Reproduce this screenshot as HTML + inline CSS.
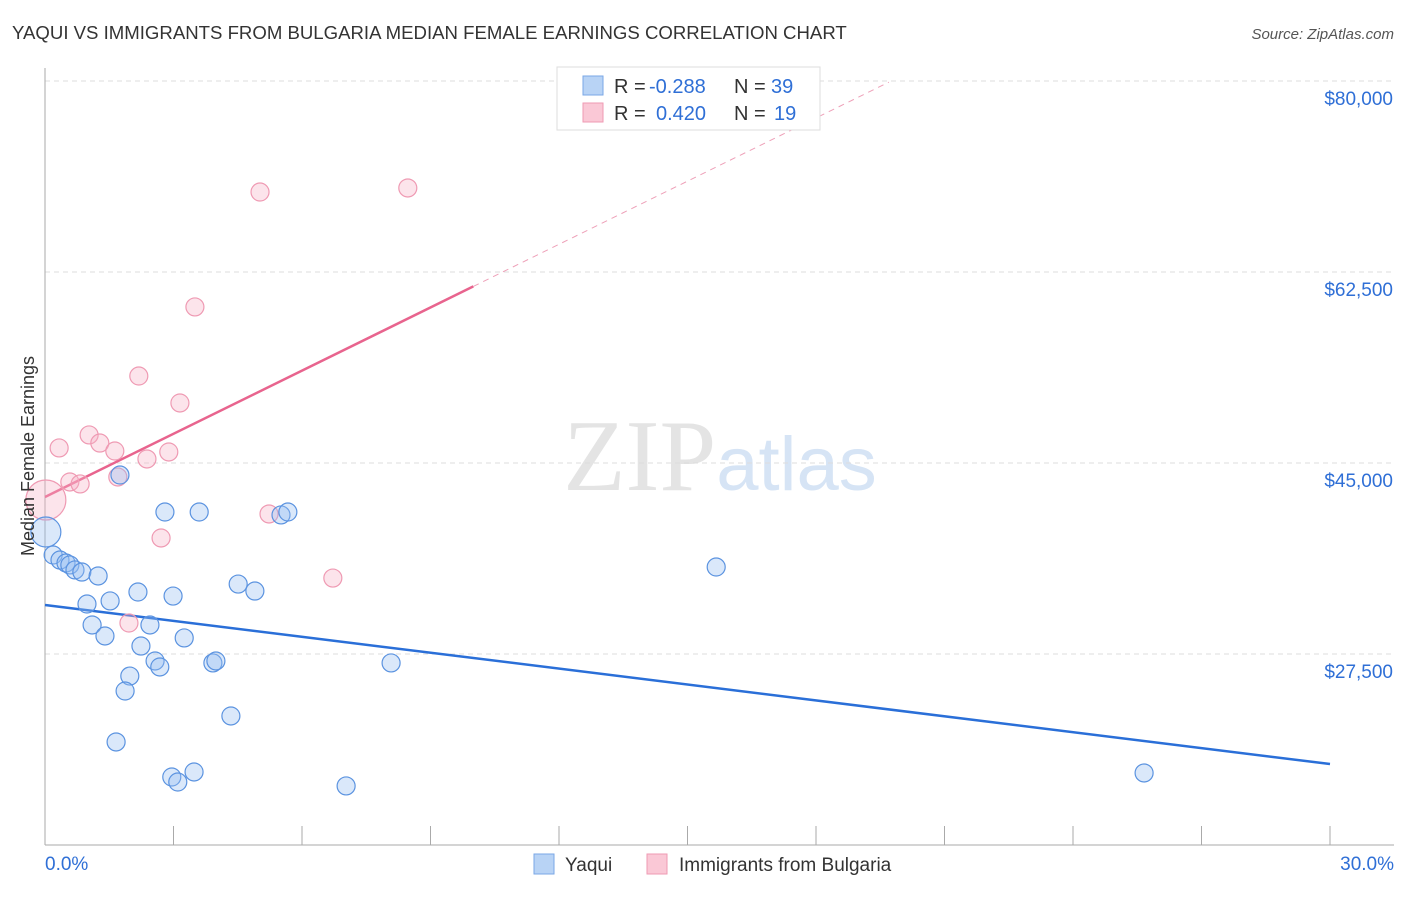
<!DOCTYPE html>
<html><head><meta charset="utf-8"><style>
body{margin:0;background:#fff;font-family:"Liberation Sans",sans-serif}
</style></head><body>
<svg id="chart" width="1406" height="892" xmlns="http://www.w3.org/2000/svg" font-family="Liberation Sans, sans-serif">
<text x="12" y="39" font-size="18.6" fill="#333">YAQUI VS IMMIGRANTS FROM BULGARIA MEDIAN FEMALE EARNINGS CORRELATION CHART</text>
<text x="1394" y="39" font-size="15" fill="#555" text-anchor="end" font-style="italic">Source: ZipAtlas.com</text>
<text x="720" y="490" font-size="102" text-anchor="middle" fill="#e4e4e4" font-family="Liberation Serif, serif">ZIP<tspan fill="#d6e4f5" font-family="Liberation Sans, sans-serif" font-size="76">atlas</tspan></text>
<g id="grid"></g><g id="axes"></g><g id="lines"></g><g id="pts"></g>
<text transform="translate(34,456) rotate(-90)" font-size="18" fill="#333" text-anchor="middle">Median Female Earnings</text>
<g>
<rect x="557" y="67" width="263" height="63" fill="#fff" stroke="#ddd"/>
<rect x="583" y="76" width="20" height="19" fill="#b8d3f5" stroke="#7aa7e6"/>
<rect x="583" y="103" width="20" height="19" fill="#fac8d6" stroke="#ef9ab3"/>
<text x="614" y="93" font-size="20" fill="#333">R =</text>
<text x="649" y="93" font-size="20" fill="#2f6fd6">-0.288</text>
<text x="734" y="93" font-size="20" fill="#333">N =</text>
<text x="771" y="93" font-size="20" fill="#2f6fd6">39</text>
<text x="614" y="120" font-size="20" fill="#333">R =</text>
<text x="656" y="120" font-size="20" fill="#2f6fd6">0.420</text>
<text x="734" y="120" font-size="20" fill="#333">N =</text>
<text x="774" y="120" font-size="20" fill="#2f6fd6">19</text>
</g>
<g>
<rect x="534" y="854" width="20" height="20" fill="#b8d3f5" stroke="#7aa7e6"/>
<text x="565" y="871" font-size="19" fill="#333">Yaqui</text>
<rect x="647" y="854" width="20" height="20" fill="#fac8d6" stroke="#ef9ab3"/>
<text x="679" y="871" font-size="19" fill="#333">Immigrants from Bulgaria</text>
</g>
</svg>
<script>
const yTicks=[27500,45000,62500,80000];
const yTickLabels=["$27,500","$45,000","$62,500","$80,000"];
const xTickLabels=["0.0%","30.0%"];
const yaquiX=[0.02,0.19,0.35,0.49,0.58,0.70,0.86,1.24,0.98,1.52,2.17,1.10,1.40,2.45,2.99,2.80,3.60,4.51,4.90,3.25,2.24,2.57,2.68,1.98,1.87,3.92,3.99,4.34,1.66,2.96,3.10,3.48,7.03,5.51,5.67,1.75,8.08,15.67,25.66];
const yaquiY=[38680,36570,36110,35840,35660,35200,35010,34650,32080,32360,33180,30160,29150,30160,32810,40510,40510,33910,33270,28970,28230,26860,26310,25480,24110,26680,26860,21820,19440,16230,15770,16690,15410,40240,40510,43900,26680,35470,16600];
const bulgX=[0.02,0.33,1.03,1.28,1.63,0.58,0.82,1.70,2.38,2.89,3.15,2.19,3.50,5.02,8.47,5.23,2.71,6.72,1.96];
const bulgY=[41610,46380,47570,46830,46100,43260,43080,43720,45370,46010,50500,52970,59300,69830,70200,40330,38130,34460,30340];
const yaquiTrend=[31990,17420];
const bulgTrend=[41890,1929];
const NS="http://www.w3.org/2000/svg";
const sx=v=>45+v/30*1285;
const sy=v=>654-(v-27500)/1000*10.914;
function mk(parent,tag,attrs){const e=document.createElementNS(NS,tag);for(const k in attrs)e.setAttribute(k,attrs[k]);document.getElementById(parent).appendChild(e);return e;}
yTicks.forEach((t,i)=>{
 const l=mk('grid','line',{x1:45,x2:1394,y1:sy(t),y2:sy(t),stroke:'#ddd','stroke-dasharray':'5,4'});
 
 
 const tx=mk('grid','text',{x:1393,y:sy(t)+24,'font-size':19,fill:'#2f6fd6','text-anchor':'end'});
 tx.textContent=yTickLabels[i];
 
 
});
let a=mk('axes','line',{x1:45,x2:45,y1:68,y2:845,stroke:'#aaa'});


a=mk('axes','line',{x1:45,x2:1394,y1:845,y2:845,stroke:'#aaa'});


for(let i=0;i<=10;i++){const t=mk('axes','line',{x1:sx(i*3),x2:sx(i*3),y1:826,y2:845,stroke:'#aaa'});
 
 }
let xl=mk('axes','text',{x:45,y:870,'font-size':19,fill:'#2f6fd6'});xl.textContent=xTickLabels[0];


xl=mk('axes','text',{x:1394,y:870,'font-size':19,fill:'#2f6fd6','text-anchor':'end'});xl.textContent=xTickLabels[1];


let tl=mk('lines','line',{x1:sx(0),y1:sy(yaquiTrend[0]),x2:sx(30),y2:sy(yaquiTrend[1]),stroke:'#2a6fd8','stroke-width':2.5});


tl=mk('lines','line',{x1:sx(0),y1:sy(bulgTrend[0]),x2:sx(10),y2:sy(bulgTrend[0]+bulgTrend[1]*10),stroke:'#e8648e','stroke-width':2.5});


tl=mk('lines','line',{x1:sx(10),y1:sy(bulgTrend[0]+bulgTrend[1]*10),x2:sx(19.7),y2:sy(bulgTrend[0]+bulgTrend[1]*19.7),stroke:'#eea0b8','stroke-width':1,'stroke-dasharray':'6,5'});


bulgX.forEach((x,i)=>{const c=mk('pts','circle',{cx:sx(x),cy:sy(bulgY[i]),r:i==0?20:9,fill:'rgba(247,178,199,0.35)',stroke:'#ef9ab3','stroke-width':1.2});
 
 });
yaquiX.forEach((x,i)=>{const c=mk('pts','circle',{cx:sx(x),cy:sy(yaquiY[i]),r:i==0?15:9,fill:'rgba(150,190,240,0.35)',stroke:'#5b93e0','stroke-width':1.2});
 
 });
</script>
</body></html>
